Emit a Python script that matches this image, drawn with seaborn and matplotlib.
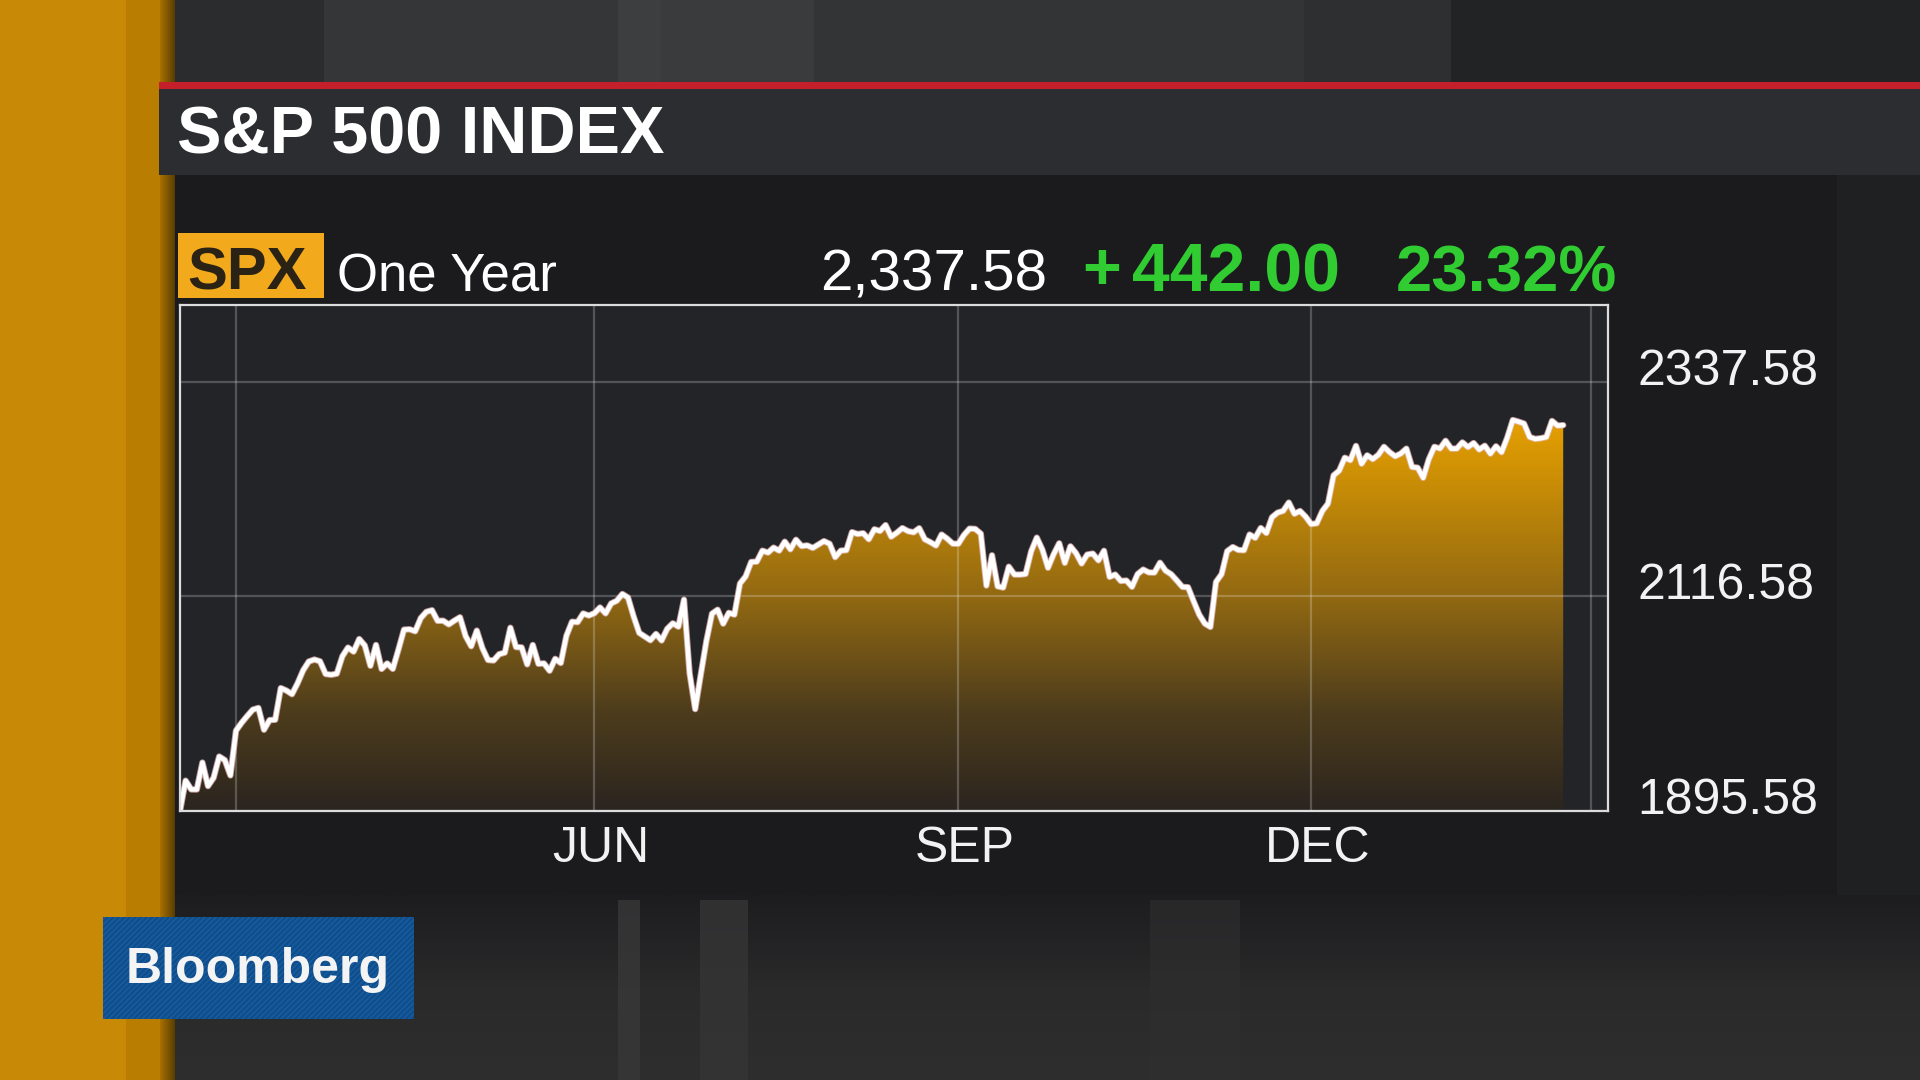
import numpy as np
import matplotlib
matplotlib.use("Agg")
import matplotlib.pyplot as plt
import matplotlib.transforms as mtransforms
from matplotlib.colors import LinearSegmentedColormap
from matplotlib.patches import Rectangle
import seaborn as sns

# ---------------- data ----------------
title = "S&P 500 INDEX"
ticker = "SPX"
period = "One Year"
last_price = "2,337.58"
change_sign = "+"
change_abs = "442.00"
change_pct = "23.32%"

# trading months covered by the chart and their trading-day counts
month_names = ["FEB", "MAR", "APR", "MAY", "JUN", "JUL", "AUG", "SEP", "OCT", "NOV", "DEC", "JAN", "FEB"]
month_days = [10, 22, 21, 21, 22, 20, 23, 21, 21, 21, 21, 20, 5]
gridline_months = ["MAR", "JUN", "SEP", "DEC"]
labelled_months = ["JUN", "SEP", "DEC"]
days_to_quote = 5          # trading days from last plotted close to the quote date

y_ticks = [1895.58, 2116.58, 2337.58]

spx_feb16 = [1895.58, 1926.82, 1917.83, 1917.78, 1945.50, 1921.27, 1929.80, 1951.70, 1948.05, 1932.23]
spx_mar16 = [1978.35, 1986.45, 1993.40, 1999.99, 2001.76, 1979.26, 1989.26, 1989.57, 2022.19, 2019.64, 2015.93,
             2027.22, 2040.59, 2049.58, 2051.60, 2049.80, 2036.71, 2035.94, 2037.05, 2055.01, 2063.95, 2059.74]
spx_apr16 = [2072.78, 2066.13, 2045.17, 2066.66, 2041.91, 2047.60, 2041.99, 2061.72, 2082.42, 2082.78, 2080.73,
             2094.34, 2100.80, 2102.40, 2091.48, 2091.58, 2087.79, 2091.70, 2095.15, 2075.81, 2065.30]
spx_may16 = [2081.43, 2063.37, 2051.12, 2050.63, 2057.14, 2058.69, 2084.39, 2064.46, 2064.11, 2046.61, 2066.66,
             2047.21, 2047.63, 2040.04, 2052.32, 2048.04, 2076.06, 2090.54, 2090.10, 2099.06, 2096.95]
spx_jun16 = [2099.33, 2105.26, 2099.13, 2109.41, 2112.13, 2119.12, 2115.48, 2096.07, 2079.06, 2075.32, 2071.50,
             2077.99, 2071.22, 2083.25, 2088.90, 2085.45, 2113.32, 2037.41, 2000.54, 2036.09, 2070.77, 2098.86]
spx_jul16 = [2102.95, 2088.55, 2099.73, 2097.90, 2129.90, 2137.16, 2152.14, 2152.43, 2163.75, 2161.74,
             2166.89, 2163.78, 2173.02, 2165.17, 2175.03, 2168.48, 2169.18, 2166.58, 2170.06, 2173.60]
spx_aug16 = [2170.84, 2157.03, 2163.79, 2164.25, 2182.87, 2180.89, 2181.74, 2175.49, 2185.79, 2184.05, 2190.15,
             2178.15, 2182.22, 2187.02, 2183.87, 2182.64, 2186.90, 2175.44, 2172.47, 2169.04, 2180.38, 2176.12, 2170.95]
spx_sep16 = [2170.86, 2179.98, 2186.48, 2186.16, 2181.30, 2127.81, 2159.04, 2127.02, 2125.77, 2147.26, 2139.16,
             2139.12, 2139.76, 2163.12, 2177.18, 2164.69, 2146.10, 2159.93, 2171.37, 2151.13, 2168.27]
spx_oct16 = [2161.20, 2150.49, 2159.73, 2160.77, 2153.74, 2163.66, 2136.73, 2139.18, 2132.55, 2132.98, 2126.50,
             2139.60, 2144.29, 2141.34, 2141.16, 2151.33, 2143.16, 2139.43, 2133.04, 2126.41, 2126.15]
spx_nov16 = [2111.72, 2097.94, 2088.66, 2085.18, 2131.52, 2139.56, 2163.26, 2167.48, 2164.45, 2164.20, 2180.39,
             2176.94, 2187.12, 2181.90, 2198.18, 2202.94, 2204.72, 2213.35, 2201.72, 2204.66, 2198.81]
spx_dec16 = [2191.08, 2191.95, 2204.71, 2212.23, 2241.35, 2246.19, 2259.53, 2256.96, 2271.72, 2253.28, 2262.03,
             2258.07, 2262.53, 2270.76, 2265.18, 2260.96, 2263.79, 2268.88, 2249.92, 2249.26, 2238.83]
spx_jan17 = [2257.83, 2270.75, 2269.00, 2276.98, 2268.90, 2268.90, 2275.32, 2270.44, 2274.64, 2267.89,
             2271.89, 2263.69, 2271.31, 2265.20, 2280.07, 2298.37, 2296.68, 2294.69, 2280.90, 2278.87]
spx_feb17 = [2279.55, 2280.85, 2297.42, 2292.56, 2293.08]

spx = (spx_feb16 + spx_mar16 + spx_apr16 + spx_may16 + spx_jun16 + spx_jul16 + spx_aug16 +
       spx_sep16 + spx_oct16 + spx_nov16 + spx_dec16 + spx_jan17 + spx_feb17)

# ---------------- style ----------------
sns.set_theme(style="dark")
plt.rcParams["font.family"] = ["Liberation Sans", "DejaVu Sans"]

W, H, DPI = 1920, 1080, 100
fig = plt.figure(figsize=(W / DPI, H / DPI), dpi=DPI)
fig.patch.set_facecolor("#1b1b1e")

# background / broadcast frame, in pixel coordinates
bg = fig.add_axes([0, 0, 1, 1], zorder=-10)
bg.set_xlim(0, W)
bg.set_ylim(H, 0)
bg.axis("off")


def rect(x0, y0, x1, y1, color, **kw):
    bg.add_patch(Rectangle((x0, y0), x1 - x0, y1 - y0, facecolor=color, edgecolor="none", **kw))


# studio strip on top
top_stripes = [(175, 324, "#2b2c2e"), (324, 618, "#353637"), (618, 661, "#3d3e3f"), (661, 814, "#3a3b3c"),
               (814, 1304, "#333435"), (1304, 1451, "#2e2f30"), (1451, 1920, "#222324")]
for a, b, c in top_stripes:
    rect(a, 0, b, 84, c)

# studio area at bottom
bottom_grad = np.linspace(0, 1, 64).reshape(-1, 1)
bcmap = LinearSegmentedColormap.from_list("b", ["#1d1d1f", "#2a2a2b", "#2e2e2f"])
bg.imshow(bottom_grad, extent=[175, 1920, 1080, 895], cmap=bcmap, aspect="auto", zorder=0)
rect(618, 900, 640, 1080, "#383839", alpha=0.8, zorder=0.5)
rect(700, 900, 748, 1080, "#353536", alpha=0.8, zorder=0.5)
rect(1150, 900, 1240, 1080, "#2f2f30", alpha=0.6, zorder=0.5)

# right of the panel
rect(1837, 175, 1920, 895, "#1f2022")
# main panel
rect(175, 175, 1837, 895, "#1b1b1e")

# gold band on the left
rect(0, 0, 126, 1080, "#c88a06", zorder=1)
rect(126, 0, 160, 1080, "#b97d02", zorder=1)
sh = np.linspace(0, 1, 32).reshape(1, -1)
scmap = LinearSegmentedColormap.from_list("s", ["#a87000", "#5a3e00"])
bg.imshow(sh, extent=[160, 175, 1080, 0], cmap=scmap, aspect="auto", zorder=1)

# red rule + title bar
rect(159, 82, 1920, 89, "#c41f2b", zorder=2)
rect(159, 89, 1920, 175, "#2c2d31", zorder=2)
bg.text(177, 153, title, color="white", fontsize=48, fontweight="bold", va="baseline", ha="left", zorder=3)

# header row
rect(178, 233, 324, 298, "#f2a91c", zorder=2)
bg.text(187, 290, ticker, color="#2a2214", fontsize=43, fontweight="bold", va="baseline", ha="left", zorder=3)
bg.text(337, 291, period, color="white", fontsize=38, va="baseline", ha="left", zorder=3)
bg.text(1047, 291, last_price, color="white", fontsize=42, va="baseline", ha="right", zorder=3)
green = "#31cc31"
bg.text(1082, 289, change_sign, color=green, fontsize=48, fontweight="bold", va="baseline", ha="left", zorder=3)
bg.text(1132, 291, change_abs, color=green, fontsize=49, fontweight="bold", va="baseline", ha="left", zorder=3)
bg.text(1617, 291, change_pct, color=green, fontsize=47, fontweight="bold", va="baseline", ha="right", zorder=3)

# Bloomberg logo
bg.add_patch(Rectangle((103, 917), 311, 102, facecolor="#0f4e8d", edgecolor="#1a5d9e", lw=0,
                       hatch="//////", zorder=4))
bg.text(258, 970, "Bloomberg", color="#f4f4f4", fontsize=36, fontweight="bold", ha="center", va="center",
        zorder=5)

# ---------------- chart ----------------
ax_left, ax_right, ax_top, ax_bottom = 180, 1608, 305, 811
ax = fig.add_axes([ax_left / W, 1 - ax_bottom / H, (ax_right - ax_left) / W, (ax_bottom - ax_top) / H])
ax.set_facecolor("#222428")

x = np.arange(len(spx))
ymin, ymax = y_ticks[0], y_ticks[-1] + 79.3
xmin, xmax = 0, 255

# gradient fill under the line
poly = ax.fill_between(x, spx, ymin, facecolor="none", edgecolor="none")
fill_cmap = LinearSegmentedColormap.from_list(
    "gold", [(0.0, "#2b2520"), (0.2, "#4e3d1c"), (0.424, "#926912"), (0.65, "#c98d06"),
             (0.78, "#e7a100"), (1.0, "#f3aa00")])
grad = np.linspace(0, 1, 256).reshape(-1, 1)
im = ax.imshow(grad, extent=[xmin, xmax, ymin, ymax], origin="lower", aspect="auto", cmap=fill_cmap, zorder=1)
im.set_clip_path(poly.get_paths()[0], transform=ax.transData)

# line
ax.plot(x, spx, color="#e9b9b9", lw=4.6, zorder=2.9, alpha=0.8)
sns.lineplot(x=x, y=spx, ax=ax, color="white", linewidth=3.3, zorder=3, legend=False)

ax.set_xlim(xmin, xmax)
ax.set_ylim(ymin, ymax)

# month-start positions from trading-day counts
starts = [int(s) for s in np.concatenate([[0], np.cumsum(month_days)[:-1]])]
grid_pos = [starts[i] for i, m in enumerate(month_names) if m in gridline_months and i < 12]
grid_labels = [month_names[starts.index(p)] for p in grid_pos]
grid_labels = [lab if lab in labelled_months else "" for lab in grid_labels]
grid_pos.append(len(spx) - 1 + days_to_quote)
grid_labels.append("")

ax.set_xticks(grid_pos)
ax.set_xticklabels(grid_labels)
ax.set_yticks(y_ticks)
ax.set_yticklabels([f"{v:.2f}" for v in y_ticks])
ax.yaxis.tick_right()
ax.set_xlabel("")
ax.set_ylabel("")

ax.set_axisbelow(False)
ax.grid(True, color="#ffffff", alpha=0.22, lw=1.6)
ax.tick_params(axis="both", length=0, colors="#f2f2f2", labelsize=36)
ax.tick_params(axis="x", pad=11)
ax.tick_params(axis="y", pad=21)

for lab in ax.get_xticklabels():
    lab.set_transform(lab.get_transform() + mtransforms.ScaledTranslation(6 / DPI, 0, fig.dpi_scale_trans))
for lab in ax.get_yticklabels():
    lab.set_transform(lab.get_transform() + mtransforms.ScaledTranslation(0, 15 / DPI, fig.dpi_scale_trans))

for s in ax.spines.values():
    s.set_visible(True)
    s.set_color("#dcdcdc")
    s.set_linewidth(1.6)
    s.set_zorder(4)

fig.savefig("out.png", dpi=DPI, facecolor=fig.get_facecolor())
